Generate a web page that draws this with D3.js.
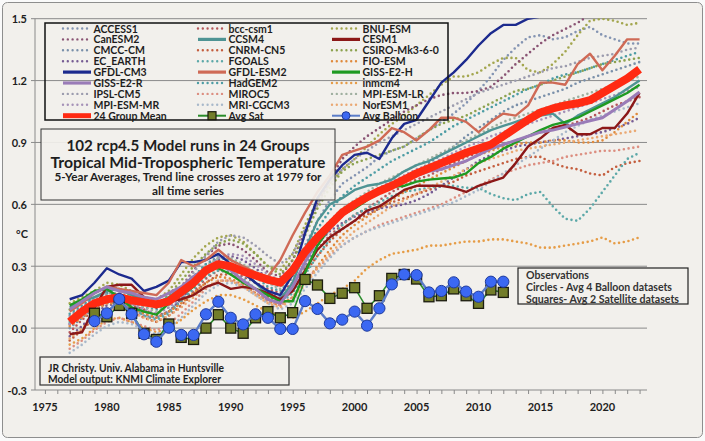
<!DOCTYPE html>
<html>
<head>
<meta charset="utf-8">
<script src="https://cdn.jsdelivr.net/npm/d3@7"></script>
<style>
  html, body { margin: 0; padding: 0; background: #ffffff; }
  svg { display: block; font-family: Lato, "Open Sans", sans-serif; }
</style>
</head>
<body>
<div id="chart"></div>
<script>
// Model years 1977..2023 (5-year running means), obs years 1979..2012.
const modelYears = d3.range(1977, 2024);
const obsYears = d3.range(1979, 2013);
const yTicks = [-0.3, 0, 0.3, 0.6, 0.9, 1.2, 1.5];
const xTicks = [1975, 1980, 1985, 1990, 1995, 2000, 2005, 2010, 2015, 2020];

// ---- solid models ----
const gfdlCm3 = [0.14, 0.16, 0.22, 0.29, 0.26, 0.24, 0.18, 0.20, 0.23, 0.32,
  0.32, 0.33, 0.36, 0.31, 0.27, 0.22, 0.18, 0.16, 0.26, 0.46,
  0.63, 0.72, 0.79, 0.84, 0.85, 0.82, 0.92, 0.99, 1.01, 1.10,
  1.19, 1.24, 1.30, 1.37, 1.43, 1.47, 1.47, 1.50, 1.51, 1.56,
  1.62, 1.66, 1.70, 1.72, 1.75, 1.78, 1.80];
const gfdlEsm2 = [0.08, 0.12, 0.17, 0.20, 0.19, 0.18, 0.17, 0.16, 0.22, 0.33,
  0.30, 0.33, 0.38, 0.33, 0.30, 0.27, 0.25, 0.33, 0.45, 0.56,
  0.66, 0.74, 0.84, 0.86, 0.88, 0.91, 0.97, 0.95, 0.91, 0.96,
  1.02, 1.02, 1.00, 0.95, 1.00, 1.04, 1.03, 1.08, 1.19, 1.19,
  1.18, 1.28, 1.33, 1.25, 1.32, 1.40, 1.40];
const cesm1 = [-0.03, -0.02, 0.10, 0.20, 0.21, 0.21, 0.15, 0.10, 0.13, 0.14,
  0.16, 0.20, 0.22, 0.19, 0.20, 0.19, 0.17, 0.14, 0.18, 0.28,
  0.38, 0.44, 0.48, 0.52, 0.57, 0.59, 0.63, 0.67, 0.69, 0.69,
  0.69, 0.68, 0.66, 0.69, 0.71, 0.73, 0.80, 0.88, 0.92, 0.97,
  0.985, 0.94, 0.94, 0.97, 0.97, 1.04, 1.14];
const ccsm4 = [0.10, 0.13, 0.15, 0.18, 0.19, 0.16, 0.14, 0.12, 0.15, 0.20,
  0.25, 0.28, 0.32, 0.30, 0.27, 0.22, 0.16, 0.14, 0.22, 0.38,
  0.52, 0.60, 0.63, 0.67, 0.69, 0.70, 0.72, 0.76, 0.79, 0.81,
  0.84, 0.87, 0.90, 0.93, 0.96, 0.98, 1.00, 1.02, 1.03, 1.04,
  0.99, 1.03, 1.06, 1.09, 1.12, 1.16, 1.20];
const gissE2H = [0.11, 0.14, 0.18, 0.19, 0.15, 0.10, 0.08, 0.065, 0.12, 0.16,
  0.20, 0.29, 0.29, 0.26, 0.22, 0.19, 0.16, 0.13, 0.13, 0.27,
  0.40, 0.49, 0.55, 0.58, 0.62, 0.66, 0.685, 0.69, 0.71, 0.72,
  0.725, 0.73, 0.75, 0.80, 0.83, 0.87, 0.90, 0.93, 0.96, 0.985,
  1.0, 1.02, 1.05, 1.08, 1.11, 1.14, 1.18];
const gissE2R = [0.09, 0.13, 0.17, 0.20, 0.18, 0.17, 0.15, 0.14, 0.17, 0.20,
  0.25, 0.29, 0.31, 0.28, 0.23, 0.19, 0.14, 0.12, 0.20, 0.32,
  0.43, 0.51, 0.57, 0.61, 0.64, 0.67, 0.70, 0.72, 0.74, 0.76,
  0.77, 0.79, 0.81, 0.84, 0.87, 0.89, 0.91, 0.93, 0.95, 0.96,
  0.975, 0.99, 1.005, 1.02, 1.06, 1.10, 1.145];

// ---- dotted models ----
const access1 = [0.06, 0.10, 0.15, 0.16, 0.14, 0.12, 0.08, 0.07, 0.10, 0.16,
  0.24, 0.31, 0.35, 0.33, 0.30, 0.26, 0.22, 0.20, 0.28, 0.40,
  0.52, 0.62, 0.70, 0.74, 0.78, 0.83, 0.86, 0.88, 0.92, 0.96,
  1.00, 1.04, 1.09, 1.15, 1.22, 1.30, 1.36, 1.41, 1.42, 1.40,
  1.41, 1.44, 1.46, 1.42, 1.40, 1.38, 1.38];
const bccCsm1 = [-0.02, 0.04, 0.09, 0.12, 0.13, 0.11, 0.09, 0.06, 0.08, 0.13,
  0.18, 0.24, 0.28, 0.27, 0.25, 0.22, 0.19, 0.17, 0.22, 0.30,
  0.38, 0.45, 0.50, 0.55, 0.58, 0.62, 0.66, 0.69, 0.72, 0.74,
  0.77, 0.80, 0.83, 0.85, 0.87, 0.89, 0.91, 0.93, 0.95, 0.97,
  0.98, 1.00, 1.02, 1.05, 1.08, 1.10, 1.12];
const bnuEsm = [0.12, 0.15, 0.18, 0.22, 0.21, 0.18, 0.15, 0.14, 0.18, 0.26,
  0.34, 0.40, 0.44, 0.45, 0.42, 0.36, 0.30, 0.28, 0.36, 0.50,
  0.62, 0.70, 0.77, 0.82, 0.88, 0.94, 0.99, 1.03, 1.08, 1.13,
  1.18, 1.22, 1.22, 1.24, 1.28, 1.31, 1.31, 1.25, 1.24, 1.28,
  1.34, 1.42, 1.49, 1.50, 1.49, 1.47, 1.48];
const canEsm2 = [0.02, 0.07, 0.12, 0.15, 0.16, 0.14, 0.12, 0.10, 0.14, 0.20,
  0.28, 0.35, 0.40, 0.41, 0.38, 0.33, 0.27, 0.25, 0.33, 0.47,
  0.60, 0.72, 0.82, 0.88, 0.93, 0.97, 1.01, 1.05, 1.08, 1.11,
  1.13, 1.14, 1.14, 1.15, 1.17, 1.22, 1.28, 1.33, 1.38, 1.42,
  1.45, 1.48, 1.52, 1.56, 1.58, 1.60, 1.62];
const cmccCm = [0.00, 0.05, 0.10, 0.13, 0.12, 0.10, 0.06, 0.05, 0.08, 0.14,
  0.20, 0.26, 0.30, 0.29, 0.26, 0.22, 0.18, 0.15, 0.20, 0.30,
  0.40, 0.48, 0.55, 0.60, 0.64, 0.68, 0.71, 0.73, 0.76, 0.80,
  0.84, 0.88, 0.93, 0.97, 1.01, 1.05, 1.08, 1.10, 1.12, 1.14,
  1.16, 1.19, 1.21, 1.23, 1.25, 1.27, 1.29];
const cnrmCn5 = [-0.06, -0.01, 0.05, 0.09, 0.10, 0.08, 0.05, 0.03, 0.06, 0.11,
  0.17, 0.22, 0.26, 0.26, 0.23, 0.19, 0.15, 0.13, 0.18, 0.27,
  0.35, 0.42, 0.48, 0.52, 0.55, 0.58, 0.61, 0.63, 0.65, 0.67,
  0.69, 0.71, 0.74, 0.76, 0.78, 0.80, 0.82, 0.83, 0.83, 0.80,
  0.78, 0.77, 0.75, 0.74, 0.78, 0.80, 0.81];
const csiroMk3 = [0.09, 0.13, 0.17, 0.20, 0.19, 0.15, 0.12, 0.11, 0.16, 0.23,
  0.30, 0.36, 0.41, 0.43, 0.41, 0.36, 0.30, 0.26, 0.33, 0.45,
  0.58, 0.68, 0.76, 0.80, 0.82, 0.84, 0.86, 0.88, 0.92, 0.96,
  0.99, 1.01, 1.03, 1.06, 1.09, 1.12, 1.15, 1.16, 1.18, 1.20,
  1.22, 1.24, 1.26, 1.28, 1.29, 1.30, 1.31];
const ecEarth = [-0.04, 0.01, 0.07, 0.11, 0.12, 0.10, 0.07, 0.05, 0.08, 0.14,
  0.21, 0.28, 0.33, 0.35, 0.33, 0.29, 0.24, 0.21, 0.25, 0.34,
  0.41, 0.47, 0.51, 0.54, 0.56, 0.58, 0.59, 0.60, 0.62, 0.65,
  0.69, 0.73, 0.77, 0.81, 0.84, 0.86, 0.88, 0.89, 0.90, 0.91,
  0.92, 0.93, 0.94, 0.95, 0.97, 0.99, 1.02];
const fgoals = [0.03, 0.07, 0.11, 0.14, 0.13, 0.10, 0.06, 0.04, 0.07, 0.13,
  0.19, 0.25, 0.28, 0.27, 0.24, 0.19, 0.14, 0.12, 0.17, 0.26,
  0.35, 0.43, 0.50, 0.55, 0.58, 0.61, 0.64, 0.66, 0.67, 0.68,
  0.69, 0.69, 0.68, 0.68, 0.65, 0.63, 0.62, 0.65, 0.66, 0.59,
  0.53, 0.52, 0.58, 0.66, 0.74, 0.82, 0.85];
const fioEsm = [0.01, 0.05, 0.09, 0.12, 0.12, 0.10, 0.07, 0.05, 0.08, 0.12,
  0.17, 0.22, 0.25, 0.24, 0.21, 0.17, 0.13, 0.11, 0.15, 0.22,
  0.30, 0.38, 0.45, 0.50, 0.54, 0.58, 0.62, 0.66, 0.69, 0.72,
  0.75, 0.78, 0.81, 0.84, 0.86, 0.88, 0.89, 0.90, 0.90, 0.91,
  0.91, 0.90, 0.90, 0.91, 0.95, 1.00, 1.05];
const hadGem2 = [0.07, 0.11, 0.15, 0.17, 0.16, 0.13, 0.10, 0.09, 0.12, 0.18,
  0.25, 0.31, 0.34, 0.33, 0.30, 0.25, 0.20, 0.18, 0.25, 0.37,
  0.48, 0.57, 0.64, 0.69, 0.73, 0.77, 0.81, 0.84, 0.87, 0.90,
  0.94, 0.98, 1.01, 1.04, 1.07, 1.10, 1.13, 1.16, 1.18, 1.21,
  1.23, 1.24, 1.26, 1.28, 1.30, 1.32, 1.34];
const inmcm4 = [-0.08, -0.05, 0.00, 0.04, 0.05, 0.03, 0.00, -0.02, 0.00, 0.04,
  0.09, 0.13, 0.16, 0.16, 0.14, 0.11, 0.08, 0.06, 0.05, 0.08,
  0.12, 0.16, 0.19, 0.23, 0.29, 0.33, 0.36, 0.37, 0.38, 0.40,
  0.40, 0.41, 0.42, 0.42, 0.43, 0.43, 0.42, 0.41, 0.39, 0.39,
  0.40, 0.41, 0.42, 0.44, 0.41, 0.42, 0.44];
const ipslCm5 = [0.05, 0.09, 0.14, 0.17, 0.17, 0.15, 0.12, 0.10, 0.13, 0.19,
  0.27, 0.35, 0.42, 0.45, 0.44, 0.40, 0.35, 0.31, 0.36, 0.48,
  0.60, 0.70, 0.77, 0.82, 0.86, 0.90, 0.93, 0.96, 0.99, 1.02,
  1.05, 1.08, 1.11, 1.14, 1.16, 1.18, 1.20, 1.22, 1.24, 1.26,
  1.27, 1.29, 1.31, 1.32, 1.33, 1.35, 1.36];
const miroc5 = [-0.10, -0.06, -0.01, 0.03, 0.05, 0.03, 0.01, -0.01, 0.02, 0.07,
  0.13, 0.19, 0.23, 0.23, 0.21, 0.17, 0.13, 0.11, 0.15, 0.23,
  0.29, 0.35, 0.40, 0.44, 0.47, 0.50, 0.52, 0.54, 0.56, 0.58,
  0.60, 0.63, 0.66, 0.69, 0.72, 0.75, 0.77, 0.79, 0.80, 0.81,
  0.83, 0.84, 0.85, 0.86, 0.86, 0.87, 0.88];
const mpiEsmLr = [0.04, 0.08, 0.12, 0.15, 0.15, 0.13, 0.10, 0.08, 0.11, 0.17,
  0.24, 0.30, 0.34, 0.34, 0.31, 0.27, 0.22, 0.19, 0.24, 0.34,
  0.44, 0.52, 0.58, 0.62, 0.66, 0.70, 0.73, 0.76, 0.79, 0.82,
  0.85, 0.88, 0.91, 0.94, 0.97, 1.00, 1.02, 1.04, 1.06, 1.08,
  1.10, 1.12, 1.14, 1.16, 1.18, 1.20, 1.22];
const mpiEsmMr = [0.02, 0.06, 0.11, 0.14, 0.14, 0.12, 0.09, 0.07, 0.10, 0.15,
  0.22, 0.29, 0.34, 0.36, 0.35, 0.31, 0.26, 0.23, 0.27, 0.36,
  0.45, 0.52, 0.57, 0.61, 0.64, 0.68, 0.71, 0.74, 0.77, 0.79,
  0.82, 0.85, 0.88, 0.90, 0.93, 0.95, 0.97, 0.99, 1.01, 1.03,
  1.05, 1.07, 1.09, 1.11, 1.13, 1.15, 1.17];
const mriCgcm3 = [-0.12, -0.08, -0.03, 0.01, 0.03, 0.02, -0.01, -0.03, 0.00, 0.05,
  0.11, 0.17, 0.21, 0.22, 0.20, 0.16, 0.12, 0.09, 0.12, 0.19,
  0.27, 0.34, 0.40, 0.44, 0.47, 0.49, 0.51, 0.53, 0.55, 0.57,
  0.59, 0.61, 0.64, 0.67, 0.71, 0.75, 0.79, 0.83, 0.87, 0.91,
  0.95, 0.98, 1.01, 1.03, 1.05, 1.07, 1.09];
const norEsm1 = [-0.05, 0.00, 0.06, 0.09, 0.10, 0.08, 0.05, 0.03, 0.06, 0.10,
  0.15, 0.20, 0.23, 0.23, 0.20, 0.16, 0.12, 0.10, 0.14, 0.21,
  0.29, 0.36, 0.42, 0.47, 0.51, 0.55, 0.59, 0.62, 0.65, 0.68,
  0.71, 0.74, 0.77, 0.80, 0.82, 0.84, 0.86, 0.87, 0.88, 0.89,
  0.90, 0.91, 0.92, 0.93, 0.94, 0.95, 0.96];

const groupMean = [0.03, 0.08, 0.12, 0.14, 0.15, 0.135, 0.125, 0.115, 0.13, 0.175,
  0.22, 0.28, 0.31, 0.30, 0.275, 0.255, 0.235, 0.22, 0.28, 0.37,
  0.44, 0.50, 0.56, 0.60, 0.635, 0.665, 0.69, 0.72, 0.75, 0.775,
  0.80, 0.825, 0.85, 0.87, 0.89, 0.93, 0.97, 1.01, 1.045, 1.065,
  1.08, 1.09, 1.105, 1.14, 1.175, 1.21, 1.255];

// ---- observations ----
const avgBalloon = [0.034, 0.072, 0.141, 0.067, -0.030, -0.066, 0.002, -0.033, -0.033, 0.067,
  0.128, 0.050, 0.018, 0.067, 0.050, -0.004, -0.004, 0.131, 0.093, 0.023,
  0.041, 0.080, 0.012, 0.096, 0.212, 0.260, 0.257, 0.173, 0.180, 0.222,
  0.177, 0.152, 0.225, 0.225];
const avgSat = [0.072, 0.055, 0.110, 0.072, -0.025, -0.055, 0.020, -0.045, -0.055, 0.000,
  0.065, 0.000, -0.025, 0.050, 0.080, 0.050, 0.075, 0.236, 0.209, 0.144,
  0.169, 0.196, 0.096, 0.157, 0.241, 0.260, 0.238, 0.152, 0.157, 0.190,
  0.157, 0.120, 0.185, 0.173];

// Series table: name, values, colour, style (built from the arrays above).
const models = [
  { name: "ACCESS1", values: access1, color: "#8494b2", kind: "dot" },
  { name: "bcc-csm1", values: bccCsm1, color: "#b4565a", kind: "dot" },
  { name: "BNU-ESM", values: bnuEsm, color: "#a3a64e", kind: "dot" },
  { name: "CanESM2", values: canEsm2, color: "#8a5474", kind: "dot" },
  { name: "CCSM4", values: ccsm4, color: "#4f9494", kind: "solid" },
  { name: "CESM1", values: cesm1, color: "#8c1818", kind: "solid" },
  { name: "CMCC-CM", values: cmccCm, color: "#7a90aa", kind: "dot" },
  { name: "CNRM-CN5", values: cnrmCn5, color: "#c45e3e", kind: "dot" },
  { name: "CSIRO-Mk3-6-0", values: csiroMk3, color: "#8ca24e", kind: "dot" },
  { name: "EC_EARTH", values: ecEarth, color: "#765c94", kind: "dot" },
  { name: "FGOALS", values: fgoals, color: "#5ca8a8", kind: "dot" },
  { name: "FIO-ESM", values: fioEsm, color: "#e08a3c", kind: "dot" },
  { name: "GFDL-CM3", values: gfdlCm3, color: "#1c2a8e", kind: "solid" },
  { name: "GFDL-ESM2", values: gfdlEsm2, color: "#cf6a56", kind: "solid" },
  { name: "GISS-E2-H", values: gissE2H, color: "#1f9a22", kind: "solid" },
  { name: "GISS-E2-R", values: gissE2R, color: "#9a7cb8", kind: "solid" },
  { name: "HadGEM2", values: hadGem2, color: "#4c9ca4", kind: "dot" },
  { name: "inmcm4", values: inmcm4, color: "#e69c46", kind: "dot" },
  { name: "IPSL-CM5", values: ipslCm5, color: "#9c9cae", kind: "dot" },
  { name: "MIROC5", values: miroc5, color: "#dc8e80", kind: "dot" },
  { name: "MPI-ESM-LR", values: mpiEsmLr, color: "#a0b0a0", kind: "dot" },
  { name: "MPI-ESM-MR", values: mpiEsmMr, color: "#a692b8", kind: "dot" },
  { name: "MRI-CGCM3", values: mriCgcm3, color: "#a8b8ca", kind: "dot" },
  { name: "NorESM1", values: norEsm1, color: "#eaa872", kind: "dot" }
];
const meanColor = "#ff2a12";
const satLine = "#2a8c2a", satFill = "#737d2a";
const balloonLine = "#5a7cc8", balloonFill = "#3b68f2", balloonEdge = "#1e3a9c";

// Legend grid, column-major as in the original.
const legendCols = [
  ["ACCESS1", "CanESM2", "CMCC-CM", "EC_EARTH", "GFDL-CM3", "GISS-E2-R", "IPSL-CM5", "MPI-ESM-MR", "24 Group Mean"],
  ["bcc-csm1", "CCSM4", "CNRM-CN5", "FGOALS", "GFDL-ESM2", "HadGEM2", "MIROC5", "MRI-CGCM3", "Avg Sat"],
  ["BNU-ESM", "CESM1", "CSIRO-Mk3-6-0", "FIO-ESM", "GISS-E2-H", "inmcm4", "MPI-ESM-LR", "NorESM1", "Avg Balloon"]
];

const W = 705, H = 441;
const bg = "#f2f0ec";
const ink = "#1e1e1e";

const x = d3.scaleLinear().domain([1974.2, 2023.6]).range([35, 647]);
const y = d3.scaleLinear().domain([-0.3, 1.5]).range([390, 18.7]);

const svg = d3.select("#chart").append("svg")
  .attr("width", W).attr("height", H).attr("viewBox", `0 0 ${W} ${H}`);

svg.append("rect").attr("x", 0).attr("y", 0).attr("width", W).attr("height", H).attr("fill", "#fafafa");
svg.append("rect")
  .attr("x", 2.5).attr("y", 2.5).attr("width", W - 5).attr("height", H - 6)
  .attr("rx", 5).attr("fill", bg).attr("stroke", "#8e8e8e").attr("stroke-width", 1);

svg.append("defs").append("clipPath").attr("id", "plot-clip")
  .append("rect")
  .attr("x", x.range()[0]).attr("y", y(1.5) - 0.5)
  .attr("width", x.range()[1] - x.range()[0]).attr("height", y(-0.3) - y(1.5) + 1);

// gridlines + y axis
svg.append("g")
  .selectAll("line")
  .data(yTicks)
  .join("line")
  .attr("x1", 31).attr("x2", x.range()[1])
  .attr("y1", (d) => y(d)).attr("y2", (d) => y(d))
  .attr("stroke", "#8a8a8a").attr("stroke-width", 1);
svg.append("line")
  .attr("x1", 35).attr("x2", 35).attr("y1", y(1.5)).attr("y2", y(-0.3))
  .attr("stroke", "#8a8a8a");
svg.append("g")
  .selectAll("text")
  .data(yTicks)
  .join("text")
  .attr("x", 27).attr("y", (d) => y(d))
  .attr("text-anchor", "end").attr("dominant-baseline", "central")
  .attr("font-size", 11).attr("font-weight", 700).attr("fill", ink)
  .text((d) => d.toFixed(1));

// x axis: yearly minor ticks below the -0.3 line
const xAxis = d3.axisBottom(x)
  .tickValues(d3.range(1975, 2024))
  .tickSize(4).tickFormat("");
svg.append("g").attr("transform", `translate(0,${y(-0.3)})`)
  .call(xAxis)
  .call((g) => g.select(".domain").remove())
  .call((g) => g.selectAll("line").attr("stroke", "#8a8a8a"));
svg.append("g")
  .selectAll("text")
  .data(xTicks)
  .join("text")
  .attr("x", (d) => x(d)).attr("y", 406)
  .attr("text-anchor", "middle").attr("dominant-baseline", "central")
  .attr("font-size", 11).attr("font-weight", 700).attr("fill", ink)
  .text((d) => d);

svg.append("text")
  .attr("x", 22).attr("y", 233)
  .attr("text-anchor", "middle").attr("dominant-baseline", "central")
  .attr("font-size", 11).attr("font-weight", 700).attr("fill", ink)
  .text("°C");

// series
const plot = svg.append("g").attr("clip-path", "url(#plot-clip)");
const line = d3.line().x((d, i) => x(modelYears[i])).y((d) => y(d));
const obsLine = d3.line().x((d, i) => x(obsYears[i])).y((d) => y(d));

plot.selectAll("path.dot")
  .data(models.filter((m) => m.kind === "dot"))
  .join("path")
  .attr("class", "dot")
  .attr("d", (m) => line(m.values))
  .attr("fill", "none")
  .attr("stroke", (m) => m.color)
  .attr("stroke-width", 2.6)
  .attr("stroke-linecap", "round")
  .attr("stroke-dasharray", "0 4.8");

plot.selectAll("path.solid")
  .data(models.filter((m) => m.kind === "solid"))
  .join("path")
  .attr("class", "solid")
  .attr("d", (m) => line(m.values))
  .attr("fill", "none")
  .attr("stroke", (m) => m.color)
  .attr("stroke-width", (m) => (m.name === "GISS-E2-R" ? 3 : 2.4))
  .attr("stroke-linejoin", "round");

plot.append("path")
  .attr("d", line(groupMean))
  .attr("fill", "none")
  .attr("stroke", meanColor)
  .attr("stroke-width", 8)
  .attr("stroke-linejoin", "round");

// observations: satellite squares under balloon circles
plot.append("path")
  .attr("d", obsLine(avgSat))
  .attr("fill", "none").attr("stroke", satLine).attr("stroke-width", 1.6);
plot.selectAll("rect.sat")
  .data(avgSat)
  .join("rect")
  .attr("class", "sat")
  .attr("x", (d, i) => x(obsYears[i]) - 5).attr("y", (d) => y(d) - 5)
  .attr("width", 10).attr("height", 10)
  .attr("fill", satFill).attr("stroke", "#1c1c10").attr("stroke-width", 1.3);

plot.append("path")
  .attr("d", obsLine(avgBalloon))
  .attr("fill", "none").attr("stroke", balloonLine).attr("stroke-width", 2.4);
plot.selectAll("circle.balloon")
  .data(avgBalloon)
  .join("circle")
  .attr("class", "balloon")
  .attr("cx", (d, i) => x(obsYears[i])).attr("cy", (d) => y(d))
  .attr("r", 5.6)
  .attr("fill", balloonFill).attr("stroke", balloonEdge).attr("stroke-width", 1);

// legend (transparent box)
const legend = svg.append("g");
legend.append("rect")
  .attr("x", 45).attr("y", 23).attr("width", 403).attr("height", 97)
  .attr("fill", "none").attr("stroke", "#111").attr("stroke-width", 1.5);
const colX = [63, 198, 332];
const byName = new Map(models.map((m) => [m.name, m]));
legendCols.forEach((names, c) => {
  names.forEach((name, r) => {
    const g = legend.append("g").attr("transform", `translate(${colX[c]},${28.5 + r * 10.9})`);
    const m = byName.get(name);
    if (m) {
      g.append("line").attr("x1", 0).attr("x2", 28).attr("y1", 0).attr("y2", 0)
        .attr("stroke", m.color)
        .attr("stroke-width", m.kind === "dot" ? 2.4 : 3.2)
        .attr("stroke-linecap", m.kind === "dot" ? "round" : "butt")
        .attr("stroke-dasharray", m.kind === "dot" ? "0 4.8" : null);
    } else if (name === "24 Group Mean") {
      g.append("line").attr("x1", 0).attr("x2", 28).attr("y1", 0).attr("y2", 0)
        .attr("stroke", meanColor).attr("stroke-width", 5);
    } else if (name === "Avg Sat") {
      g.append("line").attr("x1", 0).attr("x2", 28).attr("y1", 0).attr("y2", 0)
        .attr("stroke", satLine).attr("stroke-width", 2);
      g.append("rect").attr("x", 10).attr("y", -4).attr("width", 8).attr("height", 8)
        .attr("fill", satFill).attr("stroke", "#1c1c10").attr("stroke-width", 1.2);
    } else if (name === "Avg Balloon") {
      g.append("line").attr("x1", 0).attr("x2", 28).attr("y1", 0).attr("y2", 0)
        .attr("stroke", balloonLine).attr("stroke-width", 2);
      g.append("circle").attr("cx", 14).attr("cy", 0).attr("r", 4)
        .attr("fill", balloonFill).attr("stroke", balloonEdge);
    }
    g.append("text").attr("x", 30.5).attr("y", 0)
      .attr("dominant-baseline", "central")
      .attr("font-size", 10.5).attr("font-weight", 700).attr("fill", ink)
      .text(name);
  });
});

// title box
const title = svg.append("g");
title.append("rect")
  .attr("x", 41).attr("y", 129).attr("width", 294).attr("height", 71)
  .attr("fill", bg).attr("fill-opacity", 0.92)
  .attr("stroke", "#333").attr("stroke-width", 1);
const titleLines = [
  { t: "102 rcp4.5 Model runs in 24 Groups", y: 145, s: 15.5, w: 243 },
  { t: "Tropical Mid-Tropospheric Temperature", y: 161.5, s: 15.5, w: 275 },
  { t: "5-Year Averages, Trend line crosses zero at 1979 for", y: 176.5, s: 11, w: 267 },
  { t: "all time series", y: 190.5, s: 11, w: 72 }
];
title.selectAll("text")
  .data(titleLines)
  .join("text")
  .attr("x", 188).attr("y", (d) => d.y)
  .attr("text-anchor", "middle").attr("dominant-baseline", "central")
  .attr("font-size", (d) => d.s).attr("font-weight", 700).attr("fill", ink)
  .attr("textLength", (d) => d.w).attr("lengthAdjust", "spacingAndGlyphs")
  .text((d) => d.t);

// credit box
const credit = svg.append("g");
credit.append("rect")
  .attr("x", 40).attr("y", 357).attr("width", 249).attr("height", 28)
  .attr("fill", bg).attr("stroke", "#333").attr("stroke-width", 1.2);
credit.selectAll("text")
  .data([
    { t: "JR Christy. Univ. Alabama in Huntsville", y: 367.5, w: 176 },
    { t: "Model output: KNMI Climate Explorer", y: 379, w: 173 }
  ])
  .join("text")
  .attr("x", 48).attr("y", (d) => d.y)
  .attr("dominant-baseline", "central")
  .attr("font-size", 10.5).attr("font-weight", 700).attr("fill", ink)
  .attr("textLength", (d) => d.w).attr("lengthAdjust", "spacingAndGlyphs")
  .text((d) => d.t);

// observations note
const note = svg.append("g");
note.append("rect")
  .attr("x", 518).attr("y", 268).attr("width", 170).attr("height", 36)
  .attr("fill", bg).attr("stroke", "#222").attr("stroke-width", 1.2);
note.selectAll("text")
  .data([
    { t: "Observations", y: 274.5, w: 63 },
    { t: "Circles - Avg 4 Balloon datasets", y: 286.5, w: 146 },
    { t: "Squares- Avg 2 Satellite datasets", y: 298.5, w: 153 }
  ])
  .join("text")
  .attr("x", 526).attr("y", (d) => d.y)
  .attr("dominant-baseline", "central")
  .attr("font-size", 10.5).attr("font-weight", 700).attr("fill", "#333")
  .attr("textLength", (d) => d.w).attr("lengthAdjust", "spacingAndGlyphs")
  .text((d) => d.t);
</script>
</body>
</html>
